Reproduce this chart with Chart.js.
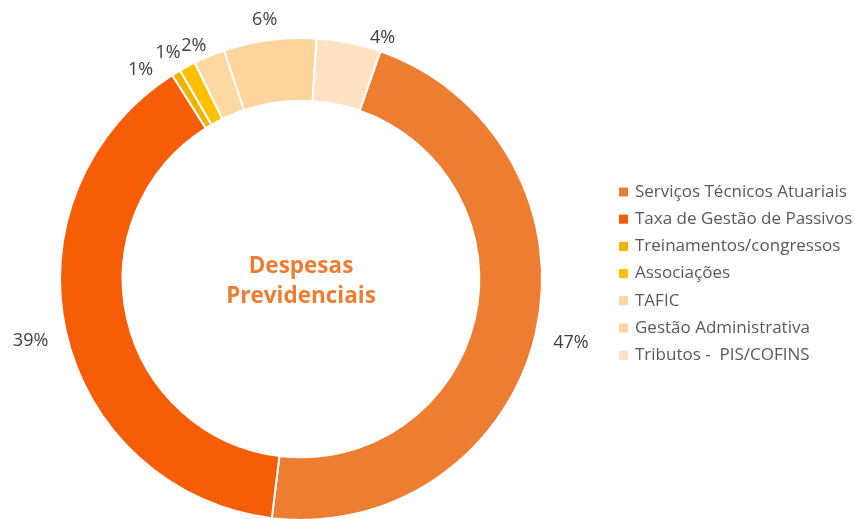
<!DOCTYPE html>
<html>
<head>
<meta charset="utf-8">
<script src="https://cdn.jsdelivr.net/npm/chart.js@4/dist/chart.umd.min.js"></script>
<style>
  html, body { margin: 0; padding: 0; background: #fff; }
  #wrap { width: 855px; height: 519px; overflow: hidden; position: relative; }
  canvas { display: block; }
</style>
</head>
<body>
<div id="wrap"><canvas id="c" width="855" height="560"></canvas></div>
<script>
// ---- Data ----
const categories = [
  'Serviços Técnicos Atuariais',
  'Taxa de Gestão de Passivos',
  'Treinamentos/congressos',
  'Associações',
  'TAFIC',
  'Gestão Administrativa',
  'Tributos -  PIS/COFINS'
];
const shares = [46.6, 39.1, 0.6, 1.1, 2.1, 6.2, 4.3];
const sliceColors = ['#ED7D31', '#F55D07', '#F0B400', '#FFC000', '#FDD8A2', '#FDD59D', '#FEE2C3'];
const centerTitle = ['Despesas', 'Previdenciais'];

const FONT = '"Open Sans", "Liberation Sans", sans-serif';

const labelsPlugin = {
  id: 'outLabels',
  afterDatasetsDraw(chart, args, opts) {
    const ctx = chart.ctx;
    const meta = chart.getDatasetMeta(0);
    const data = chart.data.datasets[0].data;
    const total = data.reduce((a, b) => a + b, 0);
    const arcs = meta.data;
    const mids = arcs.map(a => (a.startAngle + a.endAngle) / 2);
    const minSep = 7 * Math.PI / 180;
    for (let i = mids.length - 2; i >= 0; i--) {
      if (mids[i] > mids[i + 1] - minSep) mids[i] = mids[i + 1] - minSep;
    }
    const tweak = opts.tweak || [];
    ctx.save();
    ctx.font = '18px ' + FONT;
    ctx.fillStyle = '#404040';
    ctx.textAlign = 'center';
    ctx.textBaseline = 'middle';
    arcs.forEach((arc, i) => {
      const txt = Math.round(data[i] / total * 100) + '%';
      const w = ctx.measureText(txt).width;
      const t = tweak[i] || [0, 0];
      const ang = mids[i] + t[0] * Math.PI / 180;
      const c = Math.cos(ang), s = Math.sin(ang);
      const ext = Math.abs(c) * w / 2 + Math.abs(s) * 7;
      const r = arc.outerRadius + 6 + 1.6 * ext + t[1];
      ctx.fillText(txt, arc.x + c * r, arc.y + s * r + 1);
    });
    // centre title
    const a0 = arcs[0];
    ctx.font = 'bold 22.5px ' + FONT;
    ctx.fillStyle = '#ED7D31';
    ctx.textBaseline = 'alphabetic';
    ctx.fillText(centerTitle[0], a0.x, 273);
    ctx.fillText(centerTitle[1], a0.x, 303);
    // legend
    ctx.font = '17px ' + FONT;
    ctx.textAlign = 'left';
    ctx.textBaseline = 'middle';
    categories.forEach((name, i) => {
      const y = 192 + i * 27.2;
      ctx.fillStyle = sliceColors[i];
      ctx.fillRect(619, y - 4.5, 9, 9);
      ctx.fillStyle = '#595959';
      ctx.fillText(name, 635, y);
    });
    ctx.restore();
  }
};

new Chart(document.getElementById('c'), {
  type: 'doughnut',
  data: {
    labels: categories,
    datasets: [{
      data: shares,
      backgroundColor: sliceColors,
      borderColor: '#ffffff',
      borderWidth: 2
    }]
  },
  options: {
    responsive: false,
    animation: false,
    rotation: 19.2,
    cutout: '74%',
    layout: { padding: { top: 37, left: 59, right: 312, bottom: 39 } },
    plugins: {
      legend: { display: false },
      tooltip: { enabled: false },
      outLabels: { tweak: [[0, 0], [0, 0], [-1, -4], [-1, -4], [-2.2, -8], [-0.5, 2], [7.2, -9]] }
    }
  },
  plugins: [labelsPlugin]
});
</script>
</body>
</html>
